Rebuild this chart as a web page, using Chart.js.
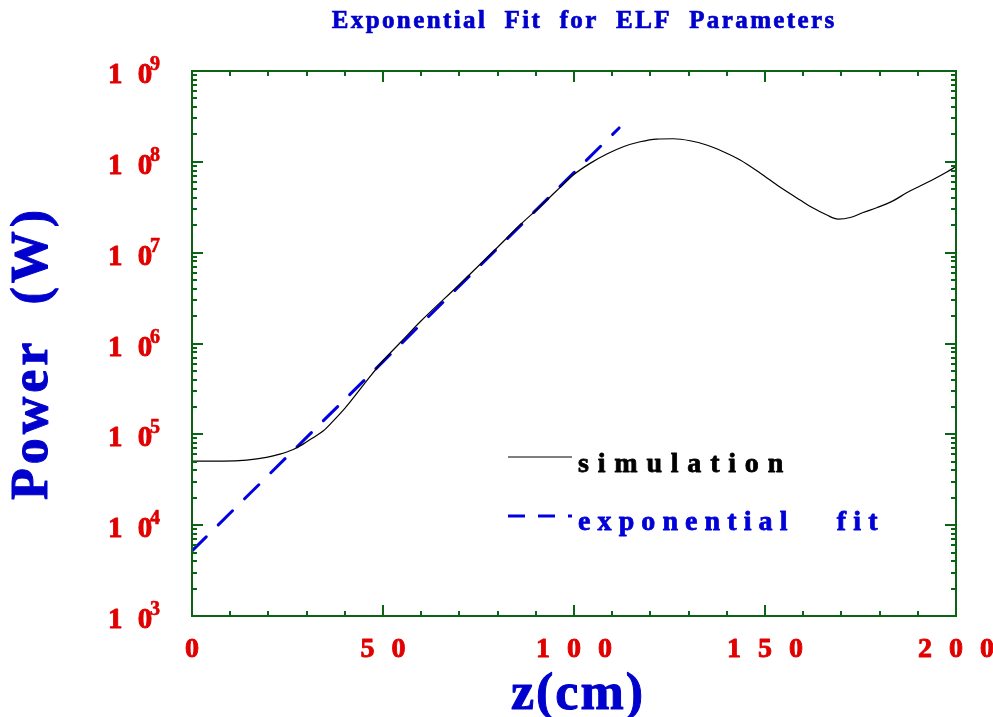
<!DOCTYPE html>
<html>
<head>
<meta charset="utf-8">
<script src="https://cdn.jsdelivr.net/npm/chart.js@4/dist/chart.umd.min.js"></script>
<style>
html,body{margin:0;padding:0;background:#fff;}
canvas{display:block;}
</style>
</head>
<body>
<canvas id="c" width="993" height="717"></canvas>
<script>
// ---- data ----
const zSim = [0, 8.2, 14.3, 19.5, 23, 26.5, 29.1, 31.8, 34.4, 37, 39.6, 41.4, 45, 50, 55, 60, 70, 80, 86, 91.1, 95.5, 99.8, 104.2, 108.6, 112.9, 117.3, 121.6, 126, 130.4, 134.7, 139.1, 143.5, 148.7, 153.9, 159.2, 162.6, 166.2, 169.1, 172.3, 175.7, 179.4, 183.5, 187.2, 190.6, 194, 197.6, 200];
const powerSim = [5.07e4, 5.07e4, 5.2e4, 5.57e4, 6.05e4, 6.81e4, 7.8e4, 9.25e4, 1.094e5, 1.409e5, 1.849e5, 2.28e5, 3.548e5, 6.457e5, 1.072e6, 1.778e6, 4.467e6, 1.148e7, 2.042e7, 3.206e7, 4.83e7, 7.161e7, 9.616e7, 1.219e8, 1.466e8, 1.663e8, 1.782e8, 1.795e8, 1.706e8, 1.531e8, 1.291e8, 1.047e8, 7.534e7, 5.272e7, 3.793e7, 3.097e7, 2.594e7, 2.344e7, 2.438e7, 2.767e7, 3.141e7, 3.715e7, 4.592e7, 5.408e7, 6.383e7, 7.727e7, 8.872e7];
const zFit = [0, 50, 111.8];
const powerFit = [5.21e3, 6.31e5, 2.36e8];
const xTickValues = [0, 50, 100, 150, 200];
const xTickLabels = ['0', '5 0', '1 0 0', '1 5 0', '2 0 0'];
const yTickExponents = [3, 4, 5, 6, 7, 8, 9];
const seriesNames = ['simulation', 'exponential   fit'];
const titleText = 'Exponential  Fit  for  ELF  Parameters';
const xTitle = 'z(cm)';
const yTitle = 'Power  (W)';

const GREEN = '#0a6414', RED = '#e00000', BLUE = '#0000cc', SERIF = '"Liberation Serif","Times New Roman",serif';

function spacedText(ctx, text, x, y, ls, align, bold) {
  ctx.letterSpacing = ls + 'px';
  const w = ctx.measureText(text).width - ls;
  let sx = x;
  if (align === 'center') sx = x - w / 2;
  else if (align === 'right') sx = x - w;
  ctx.textAlign = 'left';
  ctx.fillText(text, sx, y);
  if (bold) {
    ctx.lineWidth = bold;
    ctx.strokeStyle = ctx.fillStyle;
    ctx.lineJoin = 'round';
    ctx.strokeText(text, sx, y);
  }
  ctx.letterSpacing = '0px';
  return w;
}

const decor = {
  id: 'decor',
  afterDraw(chart) {
    const ctx = chart.ctx, a = chart.chartArea;
    const xs = chart.scales.x, ys = chart.scales.y;
    ctx.save();
    ctx.strokeStyle = GREEN;
    ctx.lineWidth = 2;
    ctx.strokeRect(a.left, a.top, a.right - a.left, a.bottom - a.top);
    ctx.beginPath();
    // x ticks
    for (let v = xs.min; v <= xs.max; v += 10) {
      const px = Math.round(xs.getPixelForValue(v));
      const L = xTickValues.includes(v) ? 11 : 5;
      ctx.moveTo(px, a.bottom); ctx.lineTo(px, a.bottom - L);
      ctx.moveTo(px, a.top); ctx.lineTo(px, a.top + L);
    }
    // y ticks
    yTickExponents.forEach((e, i) => {
      for (let k = 1; k <= 9; k++) {
        if (i === yTickExponents.length - 1 && k > 1) break;
        const py = Math.round(ys.getPixelForValue(k * Math.pow(10, e)));
        const L = k === 1 ? 11 : 5;
        ctx.moveTo(a.left, py); ctx.lineTo(a.left + L, py);
        ctx.moveTo(a.right, py); ctx.lineTo(a.right - L, py);
      }
    });
    ctx.stroke();

    // x tick labels
    ctx.fillStyle = RED;
    ctx.textBaseline = 'alphabetic';
    ctx.font = 'bold 28px ' + SERIF;
    xTickValues.forEach((v, i) => {
      spacedText(ctx, xTickLabels[i], xs.getPixelForValue(v), 657, 5, 'center', 0.9);
    });
    // y tick labels
    yTickExponents.forEach(e => {
      const py = ys.getPixelForValue(Math.pow(10, e));
      ctx.font = 'bold 29px ' + SERIF;
      spacedText(ctx, '1 0', 108, py + 12, 4, 'left', 0.9);
      ctx.font = 'bold 20px ' + SERIF;
      spacedText(ctx, String(e), 150, py - 1, 0, 'left', 0.6);
    });

    // title
    ctx.fillStyle = BLUE;
    ctx.font = 'bold 25px ' + SERIF;
    spacedText(ctx, titleText, 583, 28, 2.4, 'center', 0.7);
    // x title
    ctx.font = 'bold 52px ' + SERIF;
    spacedText(ctx, xTitle, 577, 709, 2, 'center', 1);
    // y title
    ctx.save();
    ctx.translate(47, 355);
    ctx.rotate(-Math.PI / 2);
    ctx.font = 'bold 52px ' + SERIF;
    spacedText(ctx, yTitle, 0, 0, 4, 'center', 1);
    ctx.restore();

    // legend
    ctx.lineWidth = 1.2;
    ctx.strokeStyle = '#000';
    ctx.beginPath(); ctx.moveTo(508, 457); ctx.lineTo(572, 457); ctx.stroke();
    ctx.lineWidth = 3;
    ctx.strokeStyle = '#0000e0';
    ctx.setLineDash([17, 13]);
    ctx.beginPath(); ctx.moveTo(508, 516); ctx.lineTo(572, 516); ctx.stroke();
    ctx.setLineDash([]);
    ctx.font = 'bold 28px ' + SERIF;
    ctx.fillStyle = '#000';
    spacedText(ctx, seriesNames[0], 578, 472, 8.8, 'left', 0.8);
    ctx.fillStyle = '#0000d8';
    spacedText(ctx, seriesNames[1], 578, 530, 7.1, 'left', 0.8);
    ctx.restore();
  }
};

new Chart(document.getElementById('c'), {
  type: 'line',
  data: {
    datasets: [
      {
        label: seriesNames[0],
        data: zSim.map((z, i) => ({x: z, y: powerSim[i]})),
        borderColor: '#000',
        borderWidth: 1.2,
        pointRadius: 0,
        cubicInterpolationMode: 'monotone',
        fill: false
      },
      {
        label: seriesNames[1],
        data: zFit.map((z, i) => ({x: z, y: powerFit[i]})),
        borderColor: '#0000e0',
        borderWidth: 3,
        borderDash: [20, 17],
        borderCapStyle: 'round',
        pointRadius: 0,
        tension: 0,
        fill: false
      }
    ]
  },
  options: {
    responsive: false,
    devicePixelRatio: 1,
    animation: false,
    layout: {padding: {left: 192, top: 71, right: 37, bottom: 101}},
    scales: {
      x: {type: 'linear', min: 0, max: 200, display: false},
      y: {type: 'logarithmic', min: 1e3, max: 1e9, display: false}
    },
    plugins: {legend: {display: false}, tooltip: {enabled: false}, title: {display: false}}
  },
  plugins: [decor]
});
</script>
</body>
</html>
